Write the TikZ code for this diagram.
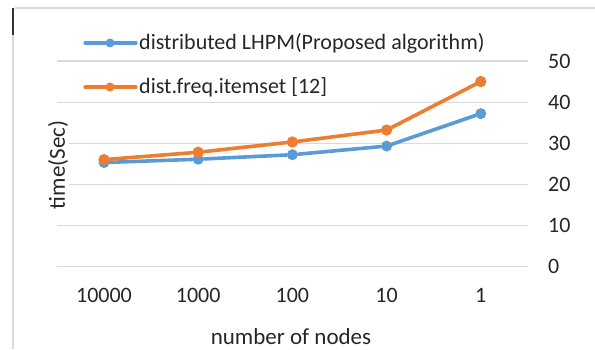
\documentclass[tikz,border=0pt]{standalone}
\usepackage{fontspec}
\setmainfont{Carlito}
\definecolor{lhpmblue}{HTML}{5B9BD5}
\definecolor{freqorange}{HTML}{ED7D31}
\definecolor{gridgray}{HTML}{D9D9D9}

\begin{document}
\begin{tikzpicture}[x=1pt,y=1pt,
    series/.style={line width=3.6pt, line cap=round, line join=round},
    dot/.style={circle, inner sep=0pt, minimum size=11pt},
    keydot/.style={circle, inner sep=0pt, minimum size=9pt},
    lbl/.style={font=\fontsize{22}{22}\selectfont, text=black!85, inner sep=0pt},
    axtitle/.style={font=\fontsize{23}{23}\selectfont, text=black!85, inner sep=0pt},
    grid line/.style={gridgray, line width=1.2pt}]
    \useasboundingbox (0,0) rectangle (595,349);
    % frame
    \draw [grid line] (13,0) -- (13,341);
    \draw [black!80, line width=1.2pt] (13,341) -- (13,314);
    \draw [grid line] (15,341) -- (595,341);
    % grid and value axis
    \foreach \v in {0,10,...,50} {
        \coordinate (gl\v) at (57,82.5+4.11*\v);
        \coordinate (gr\v) at (528,82.5+4.11*\v);
        \draw [grid line] (gl\v) -- (gr\v);
        \node [lbl, anchor=west] (tick\v) at (548,82.5+4.11*\v) {\v};
    }
    % categories and points
    \foreach \n/\b/\o [count=\i from 0] in {10000/25.3/26, 1000/26.1/27.8, 100/27.2/30.3, 10/29.3/33.2, 1/37.2/45} {
        \node [lbl] (cat\i) at (104+94.2*\i,54) {\n};
        \node [dot, fill=lhpmblue] (B\i) at (104+94.2*\i,82.5+4.11*\b) {};
        \node [dot, fill=freqorange] (O\i) at (104+94.2*\i,82.5+4.11*\o) {};
    }
    \draw [series, lhpmblue] (B0) -- (B1) -- (B2) -- (B3) -- (B4);
    \foreach \i in {0,...,4} \node [dot, fill=freqorange] at (O\i) {};
    \draw [series, freqorange] (O0) -- (O1) -- (O2) -- (O3) -- (O4);
    % axis titles
    \node [axtitle, rotate=90, anchor=center, fill=white, inner sep=1pt] (ytitle) at (58,184) {time(Sec)};
    \node [axtitle, anchor=base] (xtitle) at (291,5) {number of nodes};
    % legend
    \coordinate (kb1) at (85,306);
    \coordinate (kb2) at (136,306);
    \node [keydot, fill=lhpmblue] (kbdot) at (110,306) {};
    \draw [series, line width=3.2pt, lhpmblue] (kb1) -- (kbdot) -- (kb2);
    \node [lbl, anchor=west] (kbtext) at (139,306) {distributed LHPM(Proposed algorithm)};
    \coordinate (ko1) at (85,262);
    \coordinate (ko2) at (136,262);
    \node [keydot, fill=freqorange] (kodot) at (110,262) {};
    \draw [series, line width=3.2pt, freqorange] (ko1) -- (kodot) -- (ko2);
    \node [lbl, anchor=west] (kotext) at (139,262) {dist.freq.itemset [12]};
\end{tikzpicture}
\end{document}
